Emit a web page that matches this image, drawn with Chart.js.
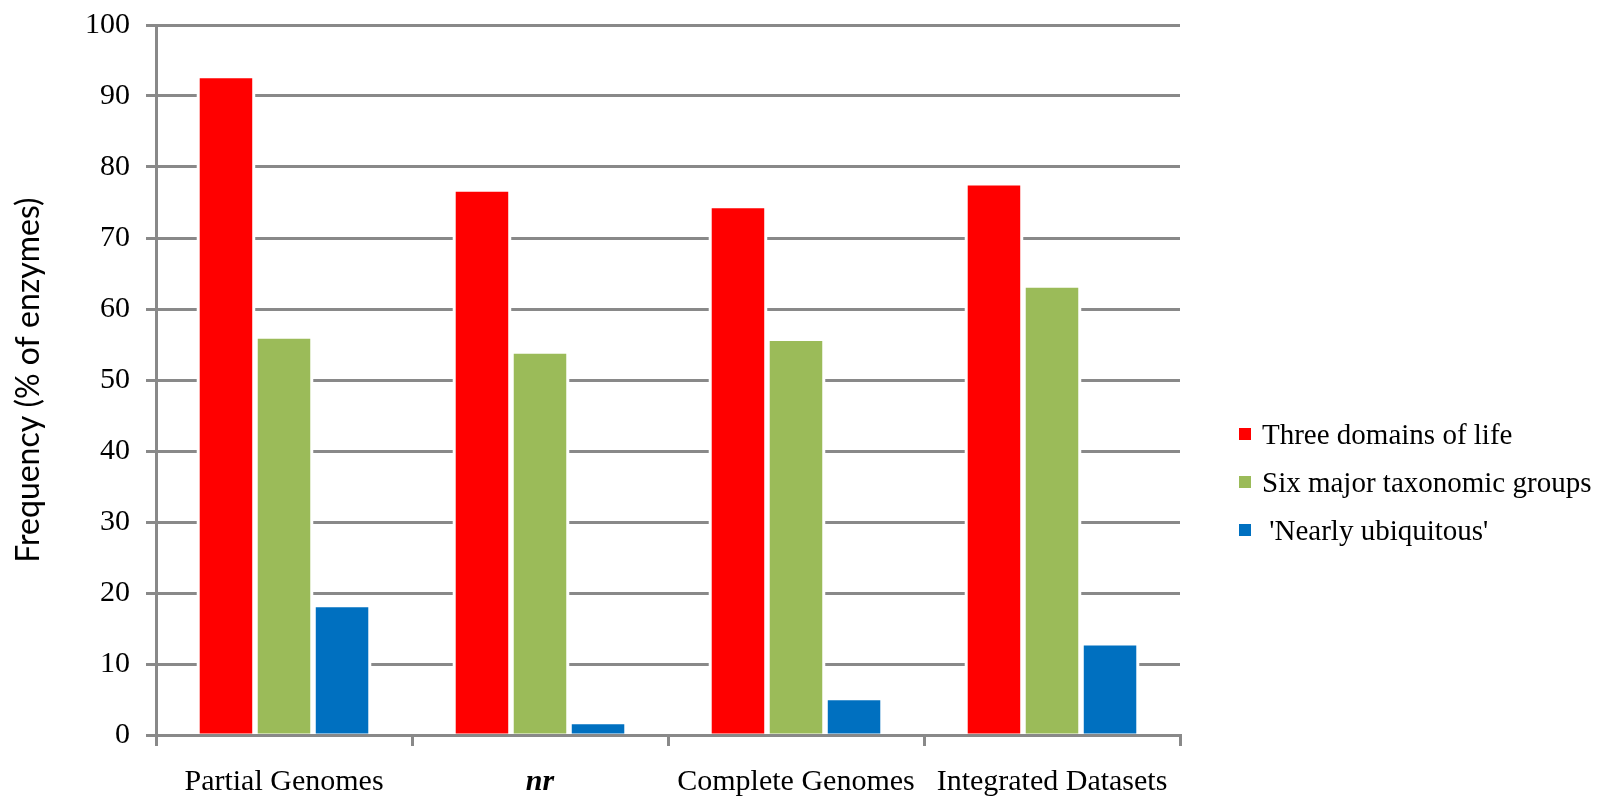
<!DOCTYPE html>
<html>
<head>
<meta charset="utf-8">
<script src="https://cdn.jsdelivr.net/npm/chart.js@4/dist/chart.umd.min.js"></script>
<style>
  html, body { margin: 0; padding: 0; background: #ffffff; }
  #wrap { width: 1612px; height: 798px; }
</style>
</head>
<body>
<div id="wrap"><canvas id="chart" width="1612" height="798"></canvas></div>
<script>
// Frequency of enzymes found across taxonomic ranges, per data source
const categories = ['Partial Genomes', 'nr', 'Complete Genomes', 'Integrated Datasets'];
const seriesNames = ['Three domains of life', 'Six major taxonomic groups', " 'Nearly ubiquitous'"];
const threeDomains = [92.5, 76.5, 74.2, 77.4];
const sixGroups = [55.8, 53.7, 55.5, 63.0];
const nearlyUbiquitous = [18.0, 1.5, 4.9, 12.6];
const yTicks = [0, 10, 20, 30, 40, 50, 60, 70, 80, 90, 100];
const axisTitle = 'Frequency (% of enzymes)';

const seriesColors = ['#FF0000', '#9BBB59', '#0070C0'];
const axisGray = '#898989';
const serif = '"Liberation Serif", "Times New Roman", serif';

const seriesValues = [threeDomains, sixGroups, nearlyUbiquitous];

// White outline around each bar, so gridlines stop short of the bars
const barHalo = {
  id: 'barHalo',
  beforeDatasetsDraw(chart) {
    const ctx = chart.ctx;
    const pad = 3;
    ctx.save();
    ctx.fillStyle = '#ffffff';
    chart.data.datasets.forEach((ds, i) => {
      chart.getDatasetMeta(i).data.forEach(bar => {
        const p = bar.getProps(['x', 'y', 'base', 'width'], true);
        const left = p.x - p.width / 2 - pad;
        const top = Math.min(p.y, p.base) - pad;
        ctx.fillRect(left, top, p.width + pad * 2, Math.abs(p.base - p.y) + pad - 2);
      });
    });
    ctx.restore();
  }
};

// Legend drawn at the right of the plot, one row per series
const sideLegend = {
  id: 'sideLegend',
  afterDraw(chart) {
    const ctx = chart.ctx;
    ctx.save();
    ctx.font = '29px ' + serif;
    ctx.textAlign = 'left';
    ctx.textBaseline = 'alphabetic';
    chart.data.datasets.forEach((ds, i) => {
      const base = 444 + i * 48;
      ctx.fillStyle = ds.backgroundColor;
      ctx.fillRect(1239, base - 16, 12, 12);
      ctx.fillStyle = '#000000';
      ctx.fillText(ds.label, 1262, base);
    });
    ctx.restore();
  }
};

new Chart(document.getElementById('chart'), {
  type: 'bar',
  data: {
    labels: categories,
    datasets: seriesNames.map((name, i) => ({
      label: name,
      data: seriesValues[i],
      backgroundColor: seriesColors[i],
      borderWidth: 0,
      categoryPercentage: 0.68,
      barPercentage: 0.905
    }))
  },
  options: {
    responsive: false,
    animation: false,
    devicePixelRatio: 1,
    layout: { padding: { top: 25, right: 432, bottom: 0, left: 0 } },
    plugins: {
      legend: { display: false },
      tooltip: { enabled: false }
    },
    scales: {
      x: {
        offset: true,
        grid: {
          offset: true,
          drawOnChartArea: false,
          drawTicks: true,
          tickLength: 11,
          color: axisGray,
          lineWidth: 3
        },
        border: { display: true, color: axisGray, width: 3 },
        ticks: {
          color: '#000000',
          padding: 18,
          maxRotation: 0,
          autoSkip: false,
          font: (ctx) => (ctx.index === 1
            ? { family: serif, size: 30, style: 'italic', weight: 'bold' }
            : { family: serif, size: 30 })
        },
        afterFit(scale) {
          scale.height = 63;
          scale.paddingLeft = 0;
          scale.paddingRight = 0;
        }
      },
      y: {
        min: 0,
        max: 100,
        afterBuildTicks(scale) { scale.ticks = yTicks.map(v => ({ value: v })); },
        grid: {
          color: axisGray,
          lineWidth: 3,
          drawTicks: true,
          tickLength: 10
        },
        border: { display: true, color: axisGray, width: 3 },
        ticks: {
          color: '#000000',
          padding: 16,
          font: { family: serif, size: 30 }
        },
        title: {
          display: true,
          text: axisTitle,
          color: '#000000',
          padding: { top: 9, bottom: 0 },
          font: { family: 'Lato, "Open Sans", sans-serif', size: 32 }
        },
        afterFit(scale) {
          scale.width = 156;
          scale.paddingTop = 0;
          scale.paddingBottom = 0;
        }
      }
    }
  },
  plugins: [barHalo, sideLegend]
});
</script>
</body>
</html>
